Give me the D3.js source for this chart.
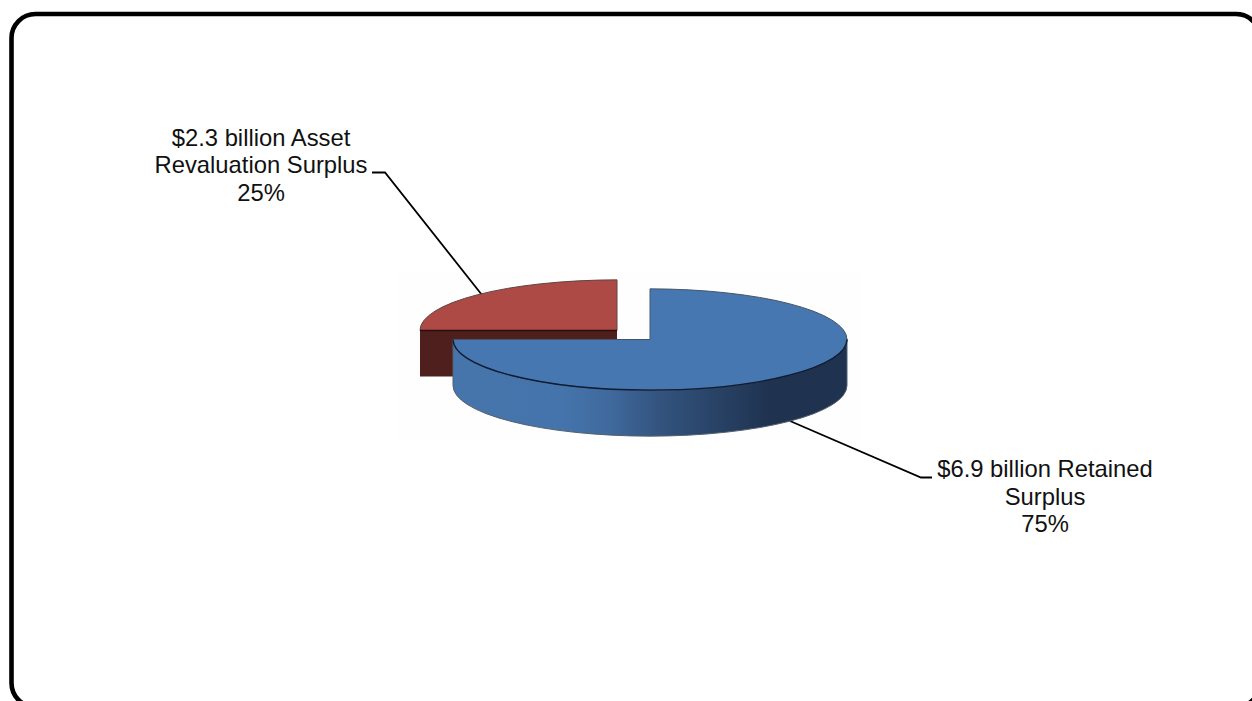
<!DOCTYPE html>
<html>
<head>
<meta charset="utf-8">
<script src="https://cdnjs.cloudflare.com/ajax/libs/d3/7.8.5/d3.min.js"></script>
<style>
html,body{margin:0;padding:0;background:#fff;overflow:hidden}
svg{display:block}
text{font-family:"Liberation Sans",Arial,sans-serif;font-size:23.8px;fill:#111}
</style>
</head>
<body>
<svg id="chart" width="1252" height="701"></svg>
<script>
// Composition of the surplus, in billions of dollars
const categories = ["Retained Surplus", "Asset Revaluation Surplus"];
const amounts = [6.9, 2.3];
const shares = [75, 25];
const labelLines = [
  ["$6.9 billion Retained", "Surplus", "75%"],
  ["$2.3 billion Asset", "Revaluation Surplus", "25%"]
];

const svg = d3.select("#chart");

// Rounded frame around the whole chart; its right and bottom run past the page
svg.append("rect")
  .attr("x", 11.5).attr("y", 14).attr("width", 1248.5).attr("height", 693)
  .attr("rx", 24).attr("ry", 24)
  .attr("fill", "#fff").attr("stroke", "#000").attr("stroke-width", 4.6);

// Faint backdrop the pie sits on
svg.append("rect")
  .attr("x", 398).attr("y", 272).attr("width", 462).attr("height", 168)
  .attr("fill", "#fefefe");

// Pie geometry: tilted disc with an exploded wedge
const radius = 197, tilt = 0.257, depth = 46;
const centers = [{x: 650, y: 339.5}, {x: 617, y: 330.5}];
const tops = ["#4777b0", "#ae4a46"];
const sideRed = "#4f1f1d";

const slices = d3.pie().sort(null).value(d => d)(shares);
const arc = d3.arc().innerRadius(0).outerRadius(radius);

const defs = svg.append("defs");
const wallFill = defs.append("linearGradient")
  .attr("id", "blueWall").attr("gradientUnits", "userSpaceOnUse")
  .attr("x1", centers[0].x - radius).attr("x2", centers[0].x + radius)
  .attr("y1", 0).attr("y2", 0);
[[0, "#4675ac"], [0.28, "#4474ab"], [0.4, "#40699d"], [0.52, "#33547f"], [0.8, "#1f3350"], [1, "#1f3350"]]
  .forEach(([o, c]) => wallFill.append("stop").attr("offset", o).attr("stop-color", c));

// Screen position of a point on the rim at a pie angle
const rim = (c, a) => [c.x + radius * Math.sin(a), c.y - radius * tilt * Math.cos(a)];

// Elliptical segment of the rim between two angles, sweeping clockwise on screen
const rimArc = (p0, p1) => `M${p0[0]},${p0[1]}A${radius},${radius * tilt} 0 0 1 ${p1[0]},${p1[1]}`;

// Outer wall of a slice: the part of its rim that faces the viewer
function frontWall(c, start, end) {
  const a0 = Math.max(start, Math.PI / 2), a1 = Math.min(end, 3 * Math.PI / 2);
  const p0 = rim(c, a0), p1 = rim(c, a1);
  return rimArc(p0, p1) +
    `L${p1[0]},${p1[1] + depth}A${radius},${radius * tilt} 0 0 0 ${p0[0]},${p0[1] + depth}Z`;
}

const g = svg.append("g");

// Leader lines sit behind the pie
const leaders = [
  [[932, 477.5], [921, 477.5], [790, 421]],
  [[372, 172.5], [385, 172.5], [482, 295]]
];
const lineGen = d3.line();
g.selectAll("path.leader").data(leaders).join("path")
  .attr("class", "leader")
  .attr("d", d => lineGen(d))
  .attr("fill", "none").attr("stroke", "#000").attr("stroke-width", 1.8);

// Red wedge: flat cut face below its top, drawn first since it sits behind
const red = slices[1], rc = centers[1];
const redLeft = rim(rc, red.startAngle);
g.append("rect")
  .attr("x", redLeft[0]).attr("y", rc.y)
  .attr("width", rc.x - redLeft[0]).attr("height", depth)
  .attr("fill", sideRed);
g.append("path")
  .attr("transform", `translate(${rc.x},${rc.y}) scale(1,${tilt})`)
  .attr("d", arc(red))
  .attr("fill", tops[1]).attr("stroke", "#5c4644")
  .attr("stroke-width", 1).style("vector-effect", "non-scaling-stroke");
g.append("line")
  .attr("x1", redLeft[0]).attr("x2", rc.x).attr("y1", rc.y).attr("y2", rc.y)
  .attr("stroke", "#2a0e0c").attr("stroke-width", 1.4);

// Blue slice: wall, then top, then the dark front rim between them
const blue = slices[0], bc = centers[0];
g.append("path")
  .attr("d", frontWall(bc, blue.startAngle, blue.endAngle))
  .attr("fill", "url(#blueWall)").attr("stroke", "#55606e").attr("stroke-width", 1);
g.append("path")
  .attr("transform", `translate(${bc.x},${bc.y}) scale(1,${tilt})`)
  .attr("d", arc(blue))
  .attr("fill", tops[0]).attr("stroke", "#46566a")
  .attr("stroke-width", 1).style("vector-effect", "non-scaling-stroke");
g.append("path")
  .attr("d", rimArc(rim(bc, Math.PI / 2), rim(bc, 3 * Math.PI / 2)))
  .attr("fill", "none").attr("stroke", "#0e1c34").attr("stroke-width", 1.4);

// Value labels
const labelAnchors = [[1045, 477], [261, 145.5]];
labelLines.forEach((lines, i) => {
  const t = svg.append("text").attr("text-anchor", "middle");
  lines.forEach((s, j) => t.append("tspan")
    .attr("x", labelAnchors[i][0])
    .attr("y", labelAnchors[i][1] + j * 27.6)
    .text(s));
});
</script>
</body>
</html>
